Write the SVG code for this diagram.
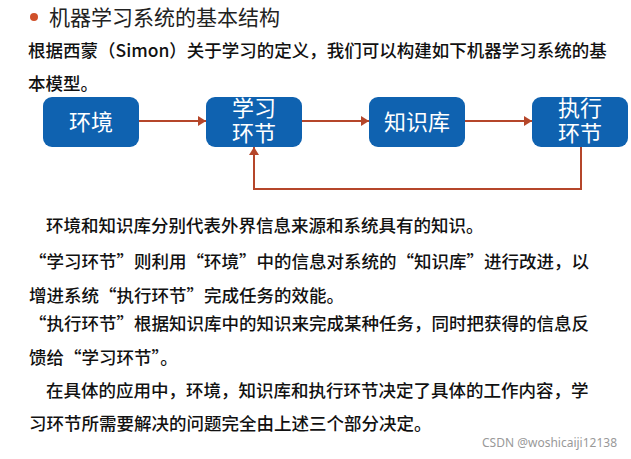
<svg xmlns="http://www.w3.org/2000/svg" width="631" height="459" viewBox="0 0 631 459">
<style>
.b{fill:#0f62b0}
.bt{fill:#fff;font-family:"Noto Sans CJK SC",sans-serif;font-size:22px;text-anchor:middle}
.t{font-family:"Noto Sans CJK SC",sans-serif;font-size:17.5px;fill:#111}
.c{stroke:#b5462a;stroke-width:2;fill:none}
</style>
<defs><marker id="a" markerWidth="8" markerHeight="10" refX="8" refY="5" orient="auto" markerUnits="userSpaceOnUse"><path d="M0,0L8,5L0,10z" fill="#b5462a"/></marker></defs>
<rect width="631" height="459" fill="#fff"/>
<circle cx="34" cy="17" r="4" fill="#d0502a"/>
<text x="49" y="25" style="font-family:'Noto Sans CJK SC',sans-serif;font-size:21px;fill:#222">机器学习系统的基本结构</text>
<text class="t" x="28" y="57" font-weight="500">根据西蒙（Simon）关于学习的定义，我们可以构建如下机器学习系统的基</text>
<text class="t" x="28" y="90" font-weight="500">本模型。</text>
<g id="n1"><rect class="b" x="43" y="97" width="96" height="50" rx="9"/><text class="bt" x="91" y="130">环境</text></g>
<g id="n2"><rect class="b" x="206" y="97" width="96" height="50" rx="9"/><text class="bt" x="254" y="116">学习</text><text class="bt" x="254" y="141">环节</text></g>
<g id="n3"><rect class="b" x="369" y="97" width="96" height="50" rx="9"/><text class="bt" x="417" y="130">知识库</text></g>
<g id="n4"><rect class="b" x="532" y="97" width="96" height="50" rx="9"/><text class="bt" x="580" y="116">执行</text><text class="bt" x="580" y="141">环节</text></g>
<g id="edges">
<path class="c" d="M139,121H206" marker-end="url(#a)"/>
<path class="c" d="M302,121H369" marker-end="url(#a)"/>
<path class="c" d="M465,121H532" marker-end="url(#a)"/>
<path class="c" d="M581,147V189H254V147" marker-end="url(#a)"/>
</g>
<g class="t" font-weight="500">
<text x="46" y="232">环境和知识库分别代表外界信息来源和系统具有的知识。</text>
<text x="29" y="268">“学习环节”则利用“环境”中的信息对系统的“知识库”进行改进，以</text>
<text x="29" y="302">增进系统“执行环节”完成任务的效能。</text>
<text x="29" y="330">“执行环节”根据知识库中的知识来完成某种任务，同时把获得的信息反</text>
<text x="29" y="364">馈给“学习环节”。</text>
<text x="46" y="397">在具体的应用中，环境，知识库和执行环节决定了具体的工作内容，学</text>
<text x="29" y="430">习环节所需要解决的问题完全由上述三个部分决定。</text>
</g>
<text x="617" y="447" text-anchor="end" style="font-family:'Noto Sans',sans-serif;font-size:12px;fill:#999">CSDN @woshicaiji12138</text>
</svg>
